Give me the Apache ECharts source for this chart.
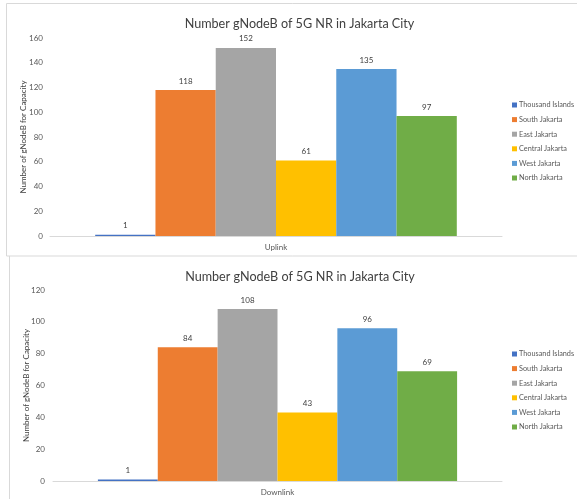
<!DOCTYPE html>
<html><head><meta charset="utf-8">
<script src="https://cdn.jsdelivr.net/npm/echarts@6/dist/echarts.min.js"></script>
<style>html,body{margin:0;padding:0;background:#fff}#c{width:577px;height:499px}</style>
</head><body><div id="c"></div>
<script>
const titleText = "Number gNodeB of 5G NR in Jakarta City";
const yName = "Number of gNodeB for Capacity";
const regions = ["Thousand Islands","South Jakarta","East Jakarta","Central Jakarta","West Jakarta","North Jakarta"];
const colors = ["#4472C4","#ED7D31","#A5A5A5","#FFC000","#5B9BD5","#70AD47"];
const uplinkCat = ["Uplink"];
const downlinkCat = ["Downlink"];
const uplinkValues = [1,118,152,61,135,97];
const downlinkValues = [1,84,108,43,96,69];
const uplinkMax = 160, downlinkMax = 120, yInterval = 20;

const font = "Lato";
const chart = echarts.init(document.getElementById('c'), null, {renderer:'canvas'});

function yAxis(idx, max, gap, margin){
  return {gridIndex: idx, type:'value', min:0, max:max, interval:yInterval,
    name: yName, nameLocation:'middle', nameGap:gap, nameRotate:90, nameMoveOverlap:false,
    nameTextStyle:{fontFamily:font,fontSize:8,color:'#404040'},
    axisLine:{show:false}, axisTick:{show:false}, splitLine:{show:false},
    axisLabel:{fontFamily:font,fontSize:8,color:'#595959',margin:margin}};
}
function xAxis(idx, cats){
  return {gridIndex: idx, type:'category', data:cats,
    axisLine:{lineStyle:{color:'#d9d9d9'}}, axisTick:{show:false},
    axisLabel:{fontFamily:font,fontSize:8,color:'#595959',margin:7}};
}
const series = [];
regions.forEach((r,i)=>{
  series.push({name:r, type:'bar', xAxisIndex:0, yAxisIndex:0, data:[uplinkValues[i]],
    itemStyle:{color:colors[i]}, barGap:'0%', barCategoryGap:'20%',
    label:{show:true, position:'top', distance:5, fontFamily:font, fontSize:8, color:'#404040'}});
});
regions.forEach((r,i)=>{
  series.push({name:r, type:'bar', xAxisIndex:1, yAxisIndex:1, data:[downlinkValues[i]],
    itemStyle:{color:colors[i]}, barGap:'0%', barCategoryGap:'20%',
    label:{show:true, position:'top', distance:5, fontFamily:font, fontSize:8, color:'#404040'}});
});
function legend(top){
  return {orient:'vertical', left:512, top:top, itemWidth:5, itemHeight:5, itemGap:6.6, icon:'rect',
    data:regions, selectedMode:false, padding:0,
    textStyle:{fontFamily:font,fontSize:7.3,lineHeight:8,color:'#595959',padding:[0,0,0,-3]}};
}
chart.setOption({
  animation:false,
  title:[
    {text:titleText, left:294.5, top:12, textAlign:'center', textStyle:{fontFamily:font,fontSize:12.6,fontWeight:'normal',color:'#404040'}},
    {text:titleText, left:295, top:265, textAlign:'center', textStyle:{fontFamily:font,fontSize:12.6,fontWeight:'normal',color:'#404040'}}
  ],
  legend:[legend(101), legend(350)],
  grid:[
    {left:50, right:75, top:38, height:198},
    {left:53, right:75, top:290, height:191}
  ],
  xAxis:[xAxis(0,uplinkCat), xAxis(1,downlinkCat)],
  yAxis:[yAxis(0,uplinkMax,23,7), yAxis(1,downlinkMax,22.5,8)],
  series:series,
  graphic:[
    {type:'rect', shape:{x:6.5,y:3.5,width:580,height:252.5}, style:{fill:'none',stroke:'#d9d9d9',lineWidth:1}, silent:true},
    {type:'line', shape:{x1:9.5,y1:256,x2:9.5,y2:499}, style:{stroke:'#d9d9d9',lineWidth:1}, silent:true}
  ]
});
</script></body></html>
